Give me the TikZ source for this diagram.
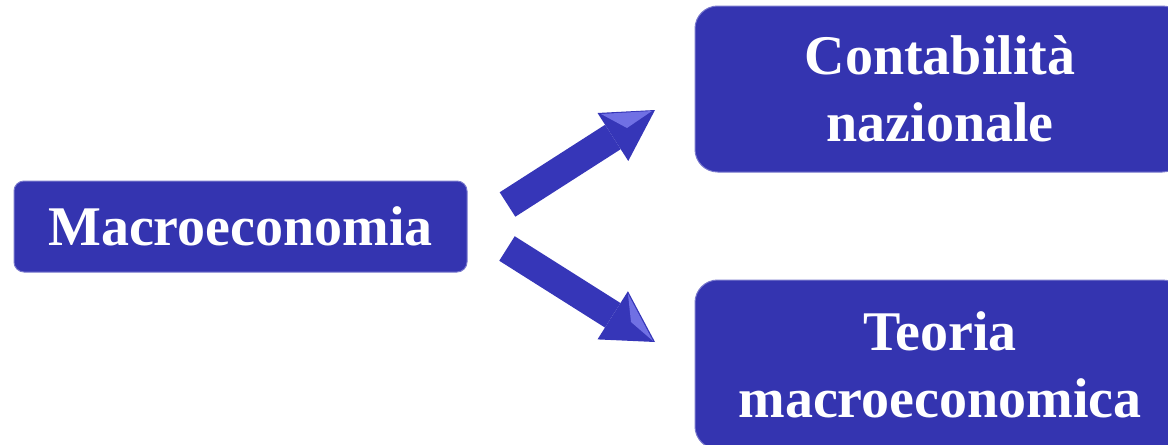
\documentclass[tikz,border=0pt]{standalone}
\usepackage{fontspec}
\setmainfont{Liberation Serif}
\usetikzlibrary{arrows.meta}
\definecolor{boxblue}{RGB}{52,52,176}
\definecolor{boxedge}{RGB}{120,120,205}
\definecolor{arrowblue}{RGB}{54,54,184}
\definecolor{facet}{RGB}{112,112,228}

\begin{document}
\begin{tikzpicture}[x=0.75pt,y=-0.75pt,
  topic/.style={fill=boxblue, draw=boxedge, line width=0.75pt, text=white,
    font=\fontsize{42}{50.25}\selectfont\bfseries, align=center, inner sep=0pt},
  blockarrow/.style={draw=arrowblue, line width=21.75pt,
    -{Triangle[width=42.75pt, length=37.5pt, line width=0pt]}},
  facetfill/.style={fill=facet, draw=none}]

  \useasboundingbox (0,0) rectangle (1168,444);
  \clip (0,0) rectangle (1168,444);

  % the three topic boxes
  \node[topic, rounded corners=7.5pt, minimum width=339.75pt, minimum height=68.25pt]
    (macro) at (240.5,226.5) {Macroeconomia};
  \node[topic, rounded corners=17pt, minimum width=367.5pt, minimum height=124.5pt]
    (conta) at (940,89) {Contabilità\\nazionale};
  \node[topic, rounded corners=17pt, minimum width=367.5pt, minimum height=126.75pt]
    (teoria) at (940,364.5) {Teoria\\macroeconomica};

  % arrow ends
  \coordinate (upTail) at (507.5,204.5);
  \coordinate (upTip) at (655,110);
  \coordinate (dnTail) at (507,248.5);
  \coordinate (dnTip) at (655,342);

  % block arrows
  \draw[blockarrow] (upTail) -- (upTip);
  \draw[blockarrow] (dnTail) -- (dnTip);

  % light facets on the arrow heads
  \fill[facetfill] (601,114) -- (652,111) -- (627,128) -- cycle;
  \fill[facetfill] (628,294) -- (653,341) -- (631,322) -- cycle;
\end{tikzpicture}
\end{document}
